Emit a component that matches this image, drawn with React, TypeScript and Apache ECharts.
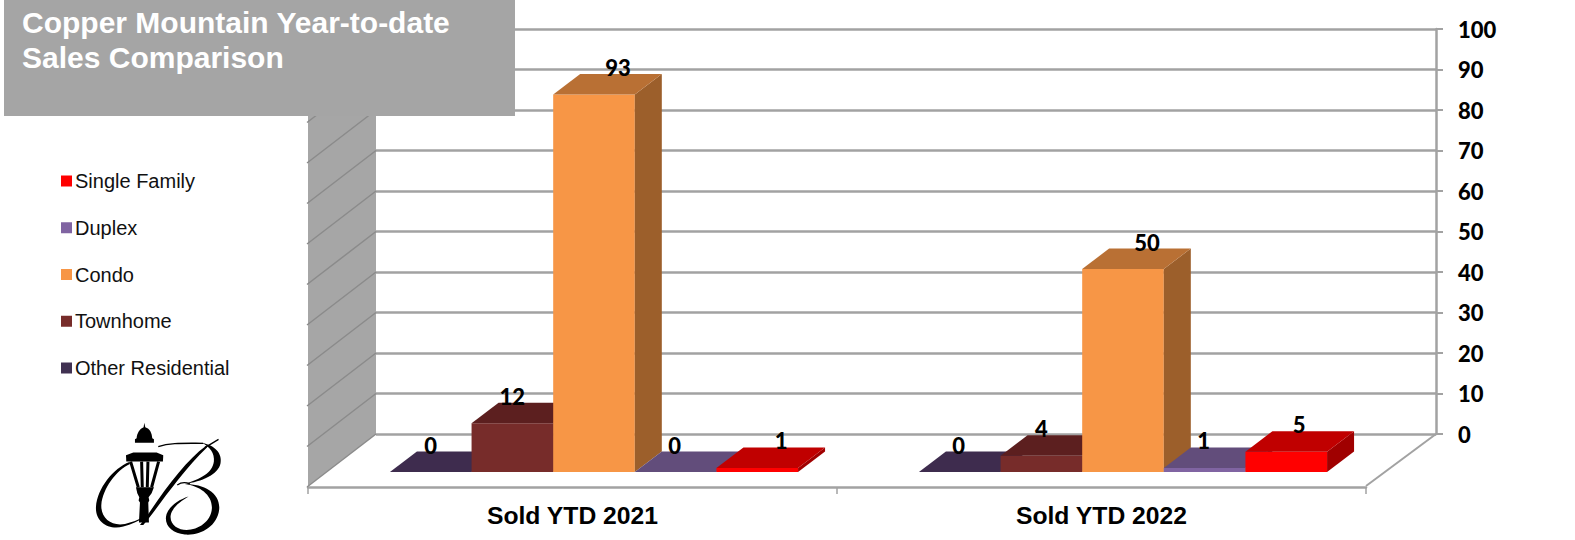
import React, { useEffect, useRef } from "react";
import * as echarts from "echarts";

const categories = ["Sold YTD 2021", "Sold YTD 2022"];
const seriesNames = ["Other Residential", "Townhome", "Condo", "Duplex", "Single Family"];
const otherResidential = [0, 0];
const townhome = [12, 4];
const condo = [93, 50];
const duplex = [0, 1];
const singleFamily = [1, 5];
const seriesValues = [otherResidential, townhome, condo, duplex, singleFamily];
const valueTicks = [0, 10, 20, 30, 40, 50, 60, 70, 80, 90, 100];
const titleText = "Copper Mountain Year-to-date\nSales Comparison";

const palette = [
  { front: "#403152", top: "#3e2c4e", side: "#33263f" },
  { front: "#772c2a", top: "#5c1f1f", side: "#4e1a1a" },
  { front: "#f79646", top: "#b97034", side: "#9c5f2b" },
  { front: "#8064a2", top: "#624d7b", side: "#4d3b62" },
  { front: "#ff0000", top: "#c00000", side: "#a00000" },
];
// hand nudges of the data labels from each bar's front centre: [series][category]
const labelNudge = [[0, -1], [0, 0], [24, 24], [-1, -1], [24, 13]];

const DEPTH_X = 68; // wall depth in px
const DEPTH_Y = 52;
const BAR_FRONT_DX = 21.5; // bar front plane relative to floor front edge
const BAR_FRONT_DY = 15;
const BAR_DEPTH_X = 27;
const BAR_DEPTH_Y = 20.5;
const BAR_BAND_RATIO = 0.1543;

const logoFills = [
  // lantern dome, cap and post
  "M163 38 L166 52 C180 56 186 70 187 85 L192 88 L192 98 L135 98 L135 88 L140 85 C141 70 150 56 161 52 Z",
  "M108 136 L130 128 L200 128 L220 136 L219 155 L109 155 Z",
  "M138 232 L192 232 L185 250 L176 262 L178 272 L175 278 L177 338 L147 338 L150 278 L146 272 L148 262 L142 250 Z",
  // left swash
  "M118 156 C70 175 22 235 18 290 C15 335 55 362 100 350 C125 344 145 335 165 320 C145 330 125 338 105 342 C65 350 32 325 34 285 C38 235 80 180 120 162 Z",
  // diagonal
  "M348 108 C290 150 230 230 170 320 L150 345 L160 345 C200 300 270 190 352 112 Z",
  // upper bowl
  "M335 98 C375 105 398 130 392 160 C385 195 335 215 285 222 C330 208 368 190 372 155 C375 130 360 110 335 98 Z",
  // lower bowl
  "M285 222 C345 222 392 250 388 298 C383 350 330 378 285 374 C245 370 220 345 230 312 C240 288 265 270 296 260 C270 275 245 295 242 318 C240 345 265 360 290 360 C325 360 364 335 366 295 C368 255 330 228 285 222 Z",
];
const lanternStroke = "M122 155 L145 232 M206 155 L185 232 M155 155 L157 232 M174 155 L172 232";
const letterThin = "M205 110 C240 98 280 100 340 100 M345 112 C360 105 372 96 386 88 M262 225 C275 216 285 215 300 222";

logoFills.forEach((d, i) => {
  echarts.graphic.registerShape("logoFill" + i, echarts.graphic.extendPath(d, {}) as any);
});
echarts.graphic.registerShape("logoLantern", echarts.graphic.extendPath(lanternStroke, {}) as any);
echarts.graphic.registerShape("logoThin", echarts.graphic.extendPath(letterThin, {}) as any);

const GRID_LINE = "#a2a2a2";

function barRender(seriesIndex: number) {
  return (params: any, api: any) => {
    const cat = api.value(0) as number;
    const val = api.value(1) as number;
    const center = api.coord([cat, 0]);
    const topPt = api.coord([cat, val]);
    const band = api.size([1, 0])[0];
    const w = band * BAR_BAND_RATIO;
    const left = center[0] + BAR_FRONT_DX + (seriesIndex - 2) * w - w / 2;
    const right = left + w;
    const base = center[1] - BAR_FRONT_DY;
    const top = topPt[1] - BAR_FRONT_DY;
    const c = palette[seriesIndex];
    const dx = BAR_DEPTH_X;
    const dy = BAR_DEPTH_Y;
    const children: any[] = [];
    if (val > 0) {
      children.push({
        type: "polygon",
        shape: { points: [[left, base], [right, base], [right, top], [left, top]] },
        style: { fill: c.front },
      });
      children.push({
        type: "polygon",
        shape: { points: [[right, base], [right + dx, base - dy], [right + dx, top - dy], [right, top]] },
        style: { fill: c.side },
      });
    }
    children.push({
      type: "polygon",
      shape: { points: [[left, top], [right, top], [right + dx, top - dy], [left + dx, top - dy]] },
      style: { fill: c.top },
    });
    children.push({
      type: "text",
      style: {
        text: String(val),
        x: left + w / 2 + labelNudge[seriesIndex][cat],
        y: top - 27,
        fill: "#000",
        font: "900 22px Lato, 'Noto Sans', sans-serif",
        align: "center",
        verticalAlign: "middle",
      },
      z2: 10,
    });
    return { type: "group", children };
  };
}

const wallRender = (params: any, api: any) => {
  const cs = params.coordSys;
  const yTop = api.coord([0, 100])[1];
  const yBase = api.coord([0, 0])[1];
  const x = cs.x;
  return {
    type: "polygon",
    shape: { points: [[x, yTop], [x, yBase], [x - DEPTH_X, yBase + DEPTH_Y], [x - DEPTH_X, yTop + DEPTH_Y]] },
    style: { fill: "#a6a6a6" },
  };
};

const wallLineRender = (params: any, api: any) => {
  const cs = params.coordSys;
  const y = api.coord([0, api.value(1)])[1];
  const x = cs.x;
  return {
    type: "line",
    shape: { x1: x, y1: y, x2: x - DEPTH_X - 1, y2: y + DEPTH_Y + 1 },
    style: { stroke: "#8b8b8b", lineWidth: 1.5 },
  };
};

const floorRightRender = (params: any, api: any) => {
  const cs = params.coordSys;
  const y = api.coord([0, 0])[1];
  const x = cs.x + cs.width;
  return {
    type: "line",
    shape: { x1: x, y1: y, x2: x - DEPTH_X - 2, y2: y + DEPTH_Y },
    style: { stroke: GRID_LINE, lineWidth: 2 },
  };
};

export default function App() {
  const ref = useRef<HTMLDivElement>(null);
  useEffect(() => {
    document.body.style.margin = "0";
    document.body.style.background = "#fff";
    const chart = echarts.init(ref.current!, undefined, { renderer: "svg" });
    chart.setOption({
      animation: false,
      backgroundColor: "#ffffff",
      title: {
        text: titleText,
        left: 22,
        top: 5,
        padding: 0,
        z: 30,
        textStyle: {
          color: "#ffffff",
          fontFamily: "Liberation Sans, Arial, sans-serif",
          fontWeight: "bold",
          fontSize: 30,
          lineHeight: 35,
        },
      },
      legend: {
        data: [...seriesNames].reverse(),
        orient: "vertical",
        left: 61,
        top: 171,
        padding: 0,
        icon: "rect",
        itemWidth: 11,
        itemHeight: 11,
        itemGap: 26.75,
        selectedMode: false,
        textStyle: {
          fontFamily: "Liberation Sans, Arial, sans-serif",
          fontSize: 20,
          color: "#111",
          padding: [0, 0, 0, -2],
        },
      },
      grid: [
        { left: 376, top: 29, width: 1060, height: 405 },
        { left: 308, top: 81, width: 1058, height: 406 },
      ],
      xAxis: [
        { type: "category", gridIndex: 0, data: categories, show: false },
        {
          type: "category",
          gridIndex: 1,
          data: categories,
          position: "bottom",
          axisLine: { show: true, lineStyle: { color: GRID_LINE, width: 2.5 } },
          axisTick: { show: true, length: 7, lineStyle: { color: GRID_LINE, width: 1.5 } },
          axisLabel: {
            margin: 16,
            color: "#000",
            fontFamily: "Liberation Sans, Arial, sans-serif",
            fontWeight: "bold",
            fontSize: 24.7,
          },
        },
      ],
      yAxis: [
        {
          type: "value",
          gridIndex: 0,
          position: "right",
          min: 0,
          max: 100,
          interval: 10,
          axisLine: { show: true, lineStyle: { color: GRID_LINE, width: 2.5 } },
          axisTick: { show: true, length: 7, lineStyle: { color: GRID_LINE, width: 2 } },
          axisLabel: {
            margin: 22,
            color: "#000",
            fontFamily: "Lato, 'Noto Sans', sans-serif",
            fontWeight: 900,
            fontSize: 22,
            padding: [5, 0, 0, 0],
          },
          splitLine: { show: true, lineStyle: { color: GRID_LINE, width: 2.5 } },
        },
        { type: "value", gridIndex: 1, min: 0, max: 100, interval: 10, show: false },
      ],
      graphic: [
        {
          type: "rect",
          z: 20,
          shape: { x: 4, y: 0, width: 511, height: 116 },
          style: { fill: "#a5a5a5" },
        },
        {
          type: "group",
          x: 90,
          y: 410,
          scaleX: 1 / 3,
          scaleY: 1 / 3,
          children: [
            ...logoFills.map((_, i) => ({ type: "logoFill" + i, style: { fill: "#000" } })),
            { type: "logoLantern", style: { fill: "none", stroke: "#000", lineWidth: 9 } },
            { type: "logoThin", style: { fill: "none", stroke: "#000", lineWidth: 4 } },
          ],
        },
      ],
      series: [
        {
          type: "custom",
          name: "wall",
          xAxisIndex: 0,
          yAxisIndex: 0,
          silent: true,
          z: 1,
          data: [[0, 0]],
          renderItem: wallRender,
        },
        {
          type: "custom",
          name: "wallLines",
          xAxisIndex: 0,
          yAxisIndex: 0,
          silent: true,
          z: 2,
          data: valueTicks.map((v) => [0, v]),
          renderItem: wallLineRender,
        },
        {
          type: "custom",
          name: "floorEdge",
          xAxisIndex: 0,
          yAxisIndex: 0,
          silent: true,
          z: 2,
          data: [[0, 0]],
          renderItem: floorRightRender,
        },
        ...seriesNames.map((name, i) => ({
          type: "custom",
          name,
          xAxisIndex: 1,
          yAxisIndex: 1,
          silent: true,
          z: 3 + i,
          itemStyle: { color: palette[i].front },
          encode: { x: 0, y: 1 },
          data: seriesValues[i].map((v, c) => [c, v]),
          renderItem: barRender(i),
        })),
      ],
    });
    return () => chart.dispose();
  }, []);
  return <div ref={ref} style={{ position: "absolute", left: 0, top: 0, width: 1575, height: 540 }} />;
}
